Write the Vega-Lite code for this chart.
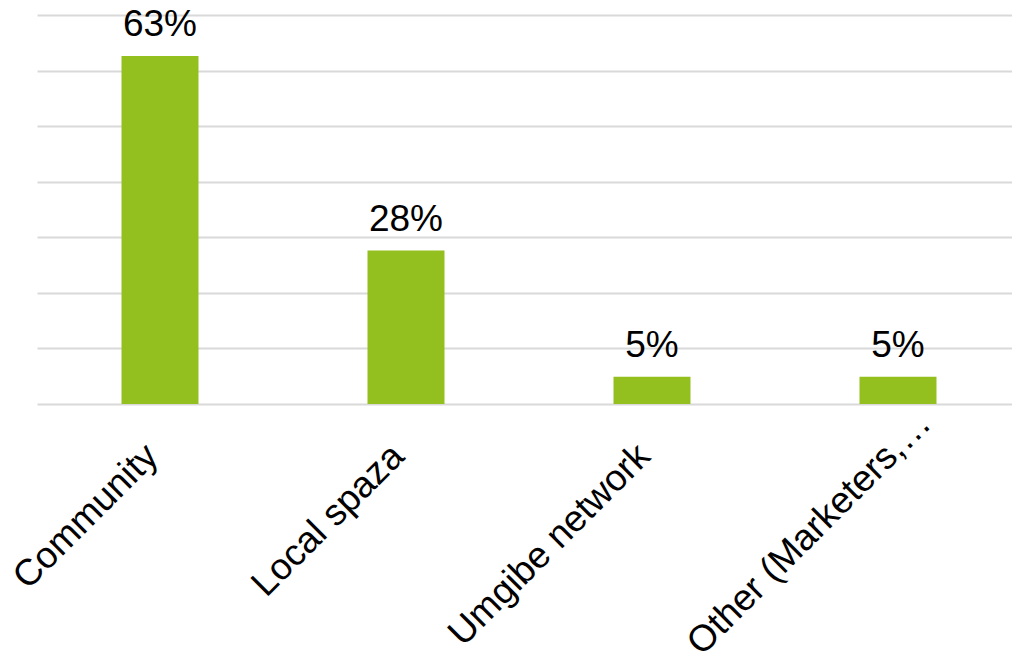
{
  "$schema": "https://vega.github.io/schema/vega-lite/v6.json",
  "width": 984,
  "height": 389,
  "autosize": "none",
  "padding": {"left": 37, "top": 15, "right": 0, "bottom": 251},
  "background": "white",
  "config": {"view": {"stroke": null}, "font": "Liberation Sans"},
  "data": {"values": [
    {"category": "Community", "value": 0.626},
    {"category": "Local spaza", "value": 0.276},
    {"category": "Umgibe network", "value": 0.049},
    {"category": "Other (Marketers,…", "value": 0.049}
  ]},
  "encoding": {
    "x": {
      "field": "category", "type": "nominal", "sort": null,
      "scale": {"paddingInner": 0.687, "paddingOuter": 0.3435},
      "axis": {
        "title": null, "domain": false, "ticks": false,
        "labelAngle": -45, "labelAlign": "right", "labelBaseline": "alphabetic",
        "labelFontSize": 37, "labelColor": "black", "labelFont": "Liberation Sans",
        "labelPadding": {"condition": {"test": "datum.index == 1", "value": 21}, "value": 54},
        "labelOffset": {"condition": {"test": "datum.index == 1", "value": 35}, "value": 0},
        "labelLimit": 1000, "labelOverlap": false
      }
    },
    "y": {
      "field": "value", "type": "quantitative",
      "scale": {"domain": [0, 0.7], "nice": false},
      "axis": {
        "title": null, "labels": false, "ticks": false, "domain": false,
        "values": [0, 0.1, 0.2, 0.3, 0.4, 0.5, 0.6, 0.7],
        "gridColor": "#d9d9d9", "gridWidth": 2, "gridOpacity": 1
      }
    }
  },
  "layer": [
    {"mark": {"type": "bar", "color": "#93c01f"}},
    {
      "mark": {"type": "text", "fontSize": 37, "font": "Liberation Sans", "color": "black", "baseline": "alphabetic", "dy": -20},
      "encoding": {"text": {"field": "value", "type": "quantitative", "format": ".0%"}}
    }
  ]
}
